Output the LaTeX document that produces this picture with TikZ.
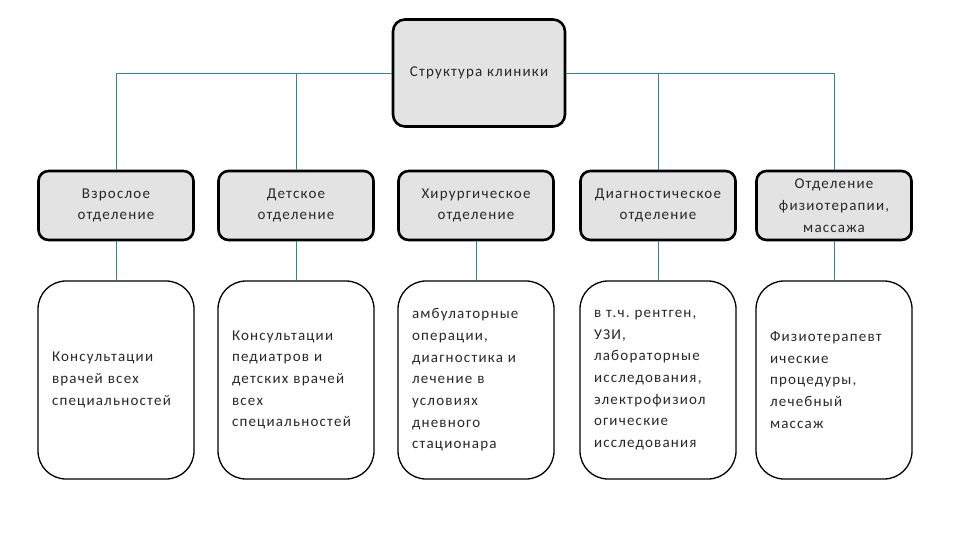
\documentclass[tikz,border=0pt]{standalone}
\usepackage{fontspec}
\setmainfont{Carlito}[LetterSpace=8]
\frenchspacing
\definecolor{linkc}{RGB}{46,138,124}
\definecolor{boxgray}{RGB}{227,227,227}
\definecolor{txt}{RGB}{40,40,40}
\begin{document}
\begin{tikzpicture}[x=1pt,y=-1pt,
  topbox/.style={draw=black,fill=boxgray,line width=2.6pt,rounded corners=12pt,
    minimum width=172pt,minimum height=107pt,text=txt,font=\fontsize{15}{21.7}\selectfont},
  deptbox/.style={draw=black,fill=boxgray,line width=2.6pt,rounded corners=10pt,
    minimum width=155pt,minimum height=69pt,align=center,inner sep=2pt,text=txt,
    font=\fontsize{15}{21.7}\selectfont},
  infobox/.style={draw=black,fill=white,line width=1.3pt,rounded corners=28pt,
    minimum width=155pt,minimum height=198pt,text width=128pt,inner xsep=14pt,
    align=left,text=txt,font=\fontsize{15}{21.7}\selectfont},
  link/.style={draw=linkc,line width=0.9pt}]
\useasboundingbox (0,0) rectangle (960,540);
\fill[white] (0,0) rectangle (960,540);

\node[topbox] (top) at (479,73) {Структура клиники};

\node[deptbox] (d1) at (116,205.5) {Взрослое\\отделение};
\node[deptbox] (d2) at (296,205.5) {Детское\\отделение};
\node[deptbox] (d3) at (476,205.5) {Хирургическое\\отделение};
\node[deptbox] (d4) at (658,205.5) {Диагностическое\\отделение};
\node[deptbox] (d5) at (834,205.5) {Отделение\\физиотерапии,\\массажа};

\node[infobox] (b1) at (116,380) {Консультации\\врачей всех\\специальностей};
\node[infobox] (b2) at (296,380) {Консультации\\педиатров и\\детских врачей\\всех\\специальностей};
\node[infobox] (b3) at (476,380) {амбулаторные\\операции,\\диагностика и\\лечение в\\условиях\\дневного\\стационара};
\node[infobox] (b4) at (658,380) {в т.ч. рентген,\\УЗИ,\\лабораторные\\исследования,\\электрофизиол\\огические\\исследования};
\node[infobox] (b5) at (834,380) {Физиотерапевт\\ические\\процедуры,\\лечебный\\массаж};

\draw[link] (top.west) -| (d1.north);
\draw[link] (d2.north) |- (top.west);
\draw[link] (top.east) -| (d5.north);
\draw[link] (d4.north) |- (top.east);
\foreach \i in {1,...,5}{\draw[link] (d\i.south) -- (b\i.north);}
\end{tikzpicture}
\end{document}
